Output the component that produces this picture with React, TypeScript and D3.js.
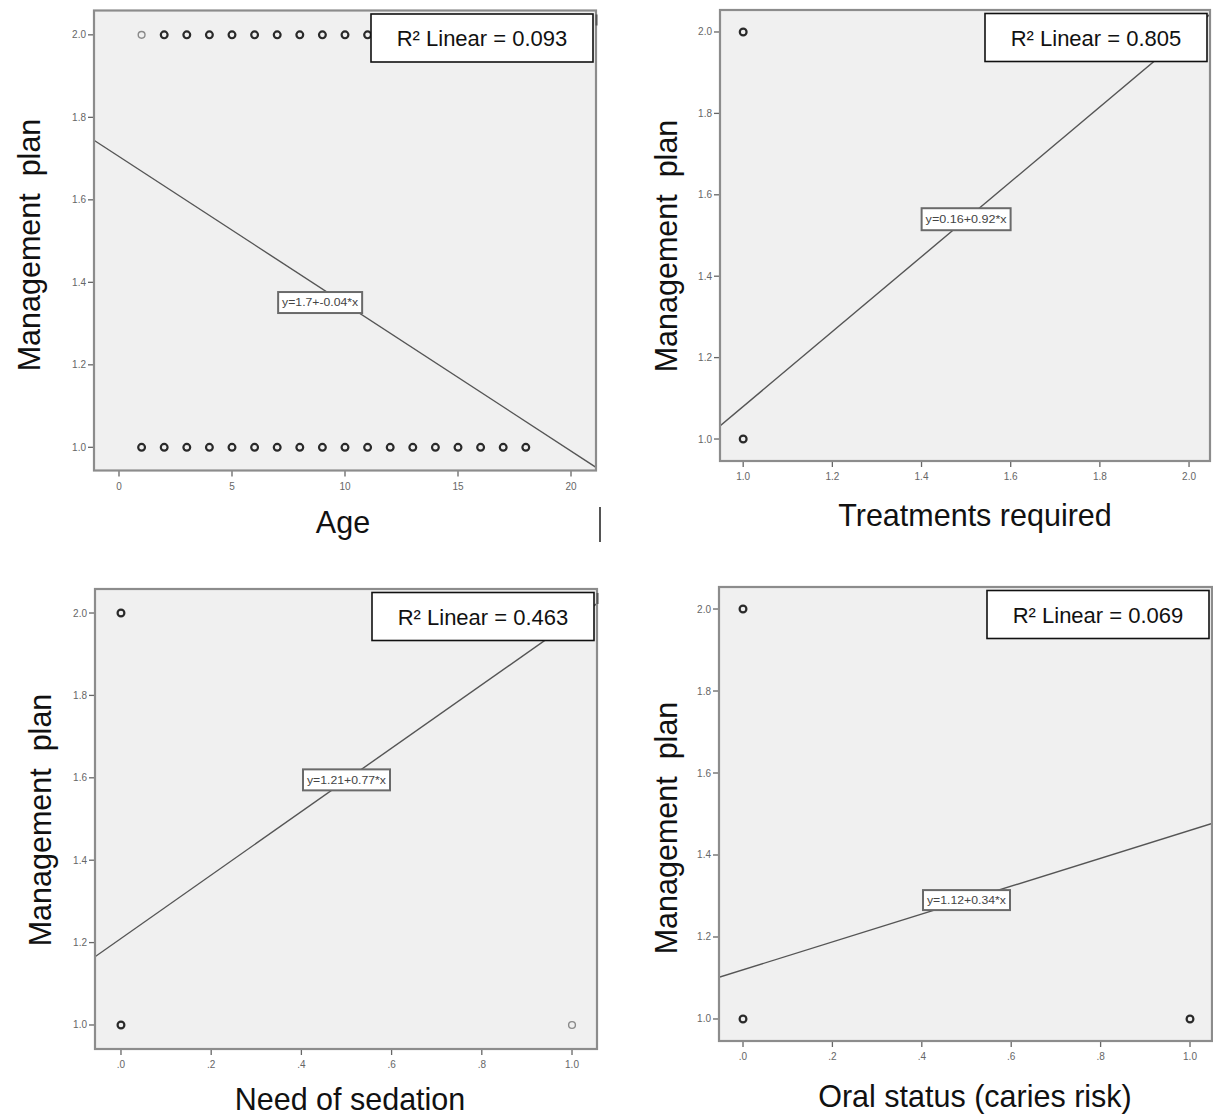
import React from 'react';
import * as d3 from 'd3';

// ---------- data ----------
const yTickValues = [1.0, 1.2, 1.4, 1.6, 1.8, 2.0];
const yTickLabels = ['1.0', '1.2', '1.4', '1.6', '1.8', '2.0'];

const ageTicks = [0, 5, 10, 15, 20];
const ageTickLabels = ['0', '5', '10', '15', '20'];
const treatTicks = [1.0, 1.2, 1.4, 1.6, 1.8, 2.0];
const treatTickLabels = ['1.0', '1.2', '1.4', '1.6', '1.8', '2.0'];
const propTicks = [0, 0.2, 0.4, 0.6, 0.8, 1.0];
const propTickLabels = ['.0', '.2', '.4', '.6', '.8', '1.0'];

// Age panel: plan = 2 and plan = 1 rows
const ageHighX = [1, 2, 3, 4, 5, 6, 7, 8, 9, 10, 11];
const ageHighLight = [true, false, false, false, false, false, false, false, false, false, false];
const ageLowX = [1, 2, 3, 4, 5, 6, 7, 8, 9, 10, 11, 12, 13, 14, 15, 16, 17, 18];

const treatX = [1.0, 1.0];
const treatY = [2.0, 1.0];
const treatLight = [false, false];

const sedationX = [0, 0, 1];
const sedationY = [2.0, 1.0, 1.0];
const sedationLight = [false, false, true];

const oralX = [0, 0, 1];
const oralY = [2.0, 1.0, 1.0];
const oralLight = [false, false, false];

const xTitles = ['Age', 'Treatments required', 'Need of sedation', 'Oral status (caries risk)'];
const yTitle = 'Management  plan';
const r2Values = ['0.093', '0.805', '0.463', '0.069'];
const intercepts = [1.705, 0.16, 1.21, 1.12];
const slopes = [-0.0357, 0.92, 0.77, 0.34];
const eqLabels = ['y=1.7+-0.04*x', 'y=0.16+0.92*x', 'y=1.21+0.77*x', 'y=1.12+0.34*x'];
const eqLabelX = [8.9, 1.5, 0.5, 0.5];
const eqLabelY = [1.351, null, null, null];

// ---------- layout ----------
const W = 1213;
const H = 1115;

type Layout = {
  l: number; t: number; r: number; b: number;
  xDom: [number, number]; yDom: [number, number];
  eqBox: [number, number];
  yTitleX: number; yTitleY: number;
  xTitleX: number; xTitleY: number;
  corner: boolean;
};

const layouts: Layout[] = [
  { l: 94, t: 10.5, r: 596, b: 470.5, xDom: [-1.106, 21.106], yDom: [0.9438, 2.059], eqBox: [84, 21],
    yTitleX: 40, yTitleY: 245, xTitleX: 343, xTitleY: 533, corner: true },
  { l: 720, t: 10, r: 1210, b: 461, xDom: [0.948, 2.047], yDom: [0.946, 2.054], eqBox: [89, 22],
    yTitleX: 677, yTitleY: 246, xTitleX: 975, xTitleY: 526, corner: false },
  { l: 95, t: 589, r: 597, b: 1049, xDom: [-0.0576, 1.0554], yDom: [0.9417, 2.0583], eqBox: [87, 21],
    yTitleX: 51, yTitleY: 820, xTitleX: 350, xTitleY: 1110, corner: true },
  { l: 719, t: 587, r: 1212, b: 1041, xDom: [-0.0537, 1.0492], yDom: [0.9463, 2.0537], eqBox: [87, 20],
    yTitleX: 677, yTitleY: 828, xTitleX: 975, xTitleY: 1107, corner: false },
];

type Pt = { x: number; y: number; light: boolean };

const panelPoints: Pt[][] = [
  [
    ...ageHighX.map((x, i) => ({ x, y: 2.0, light: ageHighLight[i] })),
    ...ageLowX.map((x) => ({ x, y: 1.0, light: false })),
  ],
  treatX.map((x, i) => ({ x, y: treatY[i], light: treatLight[i] })),
  sedationX.map((x, i) => ({ x, y: sedationY[i], light: sedationLight[i] })),
  oralX.map((x, i) => ({ x, y: oralY[i], light: oralLight[i] })),
];

const panelXTicks = [ageTicks, treatTicks, propTicks, propTicks];
const panelXTickLabels = [ageTickLabels, treatTickLabels, propTickLabels, propTickLabels];

const FONT = "'Liberation Sans', Arial, sans-serif";

function Panel({ idx }: { idx: number }) {
  const L = layouts[idx];
  const x = d3.scaleLinear().domain(L.xDom).range([L.l, L.r]);
  const y = d3.scaleLinear().domain(L.yDom).range([L.b, L.t]);
  const a = intercepts[idx];
  const s = slopes[idx];
  const lineGen = d3.line<number>().x((v) => x(v)).y((v) => y(a + s * v));
  const linePath = lineGen([L.xDom[0], L.xDom[1]]) || '';
  const ex = eqLabelX[idx];
  const eyVal = eqLabelY[idx] ?? a + s * ex;
  const cx = x(ex);
  const cy = y(eyVal);
  const [bw, bh] = L.eqBox;
  const clipId = `clip-${idx}`;
  const boxW = 222;
  const boxH = 48;
  const boxX = L.r - 3 - boxW;
  const boxY = L.t + 3.5;
  return (
    <g>
      <defs>
        <clipPath id={clipId}>
          <rect x={L.l} y={L.t} width={L.r - L.l} height={L.b - L.t} />
        </clipPath>
      </defs>
      <rect x={L.l} y={L.t} width={L.r - L.l} height={L.b - L.t} fill="#f0f0f0" />
      {/* y ticks */}
      {yTickValues.map((v, i) => (
        <g key={`yt${i}`}>
          <line x1={L.l - 6} x2={L.l} y1={y(v)} y2={y(v)} stroke="#666" strokeWidth={1.3} />
          <text x={L.l - 8} y={y(v) + 3.5} fontSize={10} fill="#666" textAnchor="end" fontFamily={FONT}>
            {yTickLabels[i]}
          </text>
        </g>
      ))}
      {/* x ticks */}
      {panelXTicks[idx].map((v, i) => (
        <g key={`xt${i}`}>
          <line x1={x(v)} x2={x(v)} y1={L.b} y2={L.b + 6} stroke="#666" strokeWidth={1.3} />
          <text x={x(v)} y={L.b + 19} fontSize={10} fill="#666" textAnchor="middle" fontFamily={FONT}>
            {panelXTickLabels[idx][i]}
          </text>
        </g>
      ))}
      <g clipPath={`url(#${clipId})`}>
        <path d={linePath} stroke="#555" strokeWidth={1.4} fill="none" />
        {panelPoints[idx].map((p, i) => (
          <circle
            key={`p${i}`}
            cx={x(p.x)}
            cy={y(p.y)}
            r={3.4}
            fill="none"
            stroke={p.light ? '#8a8a8a' : '#2a2a2a'}
            strokeWidth={p.light ? 1.4 : 2.2}
          />
        ))}
      </g>
      <rect x={L.l} y={L.t} width={L.r - L.l} height={L.b - L.t} fill="none" stroke="#8c8c8c" strokeWidth={2.2} />
      {L.corner && (
        <line x1={L.r + 0.5} x2={L.r + 0.5} y1={L.t + 4} y2={L.t + 15} stroke="#555" strokeWidth={2} />
      )}
      {/* equation label */}
      <rect x={cx - bw / 2} y={cy - bh / 2} width={bw} height={bh} fill="#ffffff" stroke="#6a6a6a" strokeWidth={2} />
      <text
        x={cx}
        y={cy + 3.8}
        fontSize={10.5}
        fill="#444"
        textAnchor="middle"
        fontFamily={FONT}
        textLength={bw - 8}
        lengthAdjust="spacingAndGlyphs"
      >
        {eqLabels[idx]}
      </text>
      {/* R2 box */}
      <rect x={boxX} y={boxY} width={boxW} height={boxH} fill="#ffffff" stroke="#111" strokeWidth={1.6} />
      <text x={boxX + boxW / 2} y={boxY + boxH / 2 + 8} fontSize={22} fill="#111" textAnchor="middle" fontFamily={FONT}>
        {`R\u00B2 Linear = ${r2Values[idx]}`}
      </text>
      {/* titles */}
      <text
        x={L.xTitleX}
        y={L.xTitleY}
        fontSize={30.5}
        fill="#111"
        textAnchor="middle"
        fontFamily={FONT}
      >
        {xTitles[idx]}
      </text>
      <text
        transform={`translate(${L.yTitleX},${L.yTitleY}) rotate(-90)`}
        fontSize={30.5}
        fill="#111"
        textAnchor="middle"
        fontFamily={FONT}
        style={{ whiteSpace: 'pre' }}
      >
        {yTitle}
      </text>
    </g>
  );
}

export default function App() {
  return (
    <svg
      width={W}
      height={H}
      viewBox={`0 0 ${W} ${H}`}
      style={{ position: 'absolute', left: 0, top: 0, background: '#ffffff' }}
    >
      <rect x={0} y={0} width={W} height={H} fill="#ffffff" />
      {layouts.map((_, i) => (
        <Panel key={i} idx={i} />
      ))}
      <line x1={600} x2={600} y1={507} y2={542} stroke="#555" strokeWidth={2} />
    </svg>
  );
}
